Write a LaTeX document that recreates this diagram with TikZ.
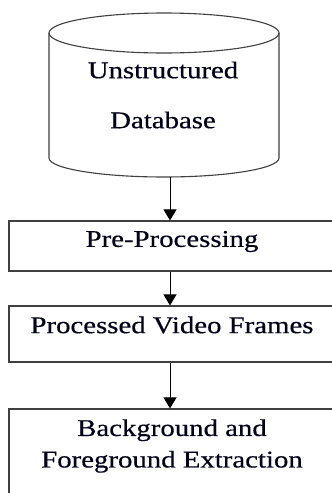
\documentclass[tikz,border=0pt]{standalone}
\usepackage{fontspec}
\setmainfont[FakeStretch=1.2,FakeBold=0.4]{Liberation Serif}
\usetikzlibrary{arrows.meta}

\tikzset{
  outline/.style={draw=black!75, line width=1.1pt},
  procbox/.style={outline, rectangle, inner sep=0pt, minimum width=326pt},
  caption/.style={font=\fontsize{24}{31.5}\selectfont, text=black!90!blue, align=center, inner sep=0pt},
  flow/.style={draw=black, line width=1pt, -{Triangle[width=13pt,length=11pt]}}
}

\begin{document}
\begin{tikzpicture}[x=1pt,y=1pt]
  \fill[white] (0,0) rectangle (332,-493);
  \useasboundingbox (0,0) rectangle (332,-493);
  \clip (0,0) rectangle (332,-493);

  % database cylinder
  \draw[outline] (49,-33) -- (49,-158)
     arc[start angle=180, end angle=360, x radius=115, y radius=19]
     -- (279,-33);
  \draw[outline] (164,-33) ellipse[x radius=115, y radius=20];
  \coordinate (dbbottom) at (170,-177);
  \node[caption, font=\fontsize{24}{50}\selectfont] (db) at (163,-95) {Unstructured\\Database};

  % process boxes
  \node[procbox, minimum height=50pt] (pre) at (172,-246) {};
  \node[caption] (preT) at (172,-241.5) {Pre-Processing};

  \node[procbox, minimum height=56pt] (frames) at (172,-334) {};
  \node[caption] (framesT) at (172,-325) {Processed Video Frames};

  \node[procbox, minimum height=120pt] (extract) at (172,-469) {};
  \node[caption] (extractT) at (172,-446) {Background and\\Foreground Extraction};

  % connectors
  \draw[flow] (dbbottom) -- (dbbottom |- pre.north);
  \draw[flow] (dbbottom |- pre.south) -- (dbbottom |- frames.north);
  \draw[flow] (dbbottom |- frames.south) -- (dbbottom |- extract.north);
\end{tikzpicture}
\end{document}
